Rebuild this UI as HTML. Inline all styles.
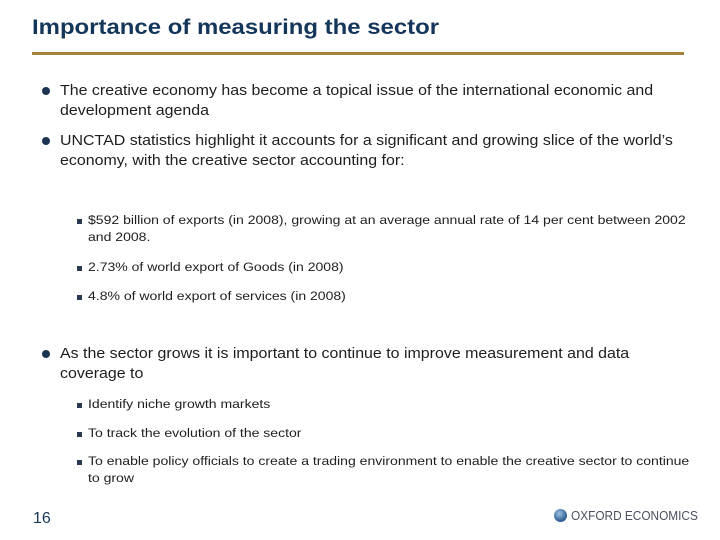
<!DOCTYPE html>
<html><head><meta charset="utf-8"><style>
body{margin:0;width:720px;height:540px;background:#fff;position:relative;overflow:hidden;font-family:"Liberation Sans",sans-serif;color:#1e1e1e}
.a{position:absolute;white-space:nowrap;transform-origin:left top}
.m{font-size:14.5px;line-height:20px;left:60px;transform:scaleX(1.1)}
.s{font-size:12.2px;line-height:17px;left:88px;transform:scaleX(1.15)}
.d{position:absolute;width:8px;height:8px;border-radius:50%;background:#1a3350;left:42px}
.q{position:absolute;width:5px;height:5px;background:#2a3a50;left:77px}
</style></head><body>
<div class="a" style="left:32px;top:16px;font-size:21px;font-weight:bold;color:#14365a;transform:scaleX(1.14)">Importance of measuring the sector</div>
<div style="position:absolute;left:32px;top:52px;width:652px;height:3px;background:#a2833b"></div>

<div class="d" style="top:87px"></div>
<div class="a m" style="top:81px">The creative economy has become a topical issue of the international economic and<br>development agenda</div>

<div class="d" style="top:137px"></div>
<div class="a m" style="top:131px">UNCTAD statistics highlight it accounts for a significant and growing slice of the world’s<br>economy, with the creative sector accounting for:</div>

<div class="q" style="top:219px"></div>
<div class="a s" style="top:212px">$592 billion of exports (in 2008), growing at an average annual rate of 14 per cent between 2002<br>and 2008.</div>
<div class="q" style="top:266px"></div>
<div class="a s" style="top:259px">2.73% of world export of Goods (in 2008)</div>
<div class="q" style="top:295px"></div>
<div class="a s" style="top:288px">4.8% of world export of services (in 2008)</div>

<div class="d" style="top:350px"></div>
<div class="a m" style="top:344px">As the sector grows it is important to continue to improve measurement and data<br>coverage to</div>

<div class="q" style="top:403px"></div>
<div class="a s" style="top:396px">Identify niche growth markets</div>
<div class="q" style="top:432px"></div>
<div class="a s" style="top:425px">To track the evolution of the sector</div>
<div class="q" style="top:460px"></div>
<div class="a s" style="top:453px">To enable policy officials to create a trading environment to enable the creative sector to continue<br>to grow</div>

<div class="a" style="left:33px;top:510px;font-size:16px;color:#14365a">16</div>
<div style="position:absolute;left:554px;top:509px;width:13px;height:13px;border-radius:50%;background:radial-gradient(circle at 40% 35%,#9cc0e0,#2a5a90 70%)"></div>
<div class="a" style="left:571px;top:508px;font-size:13px;color:#4a5060;transform:scaleX(0.91)">OXFORD ECONOMICS</div>
</body></html>
